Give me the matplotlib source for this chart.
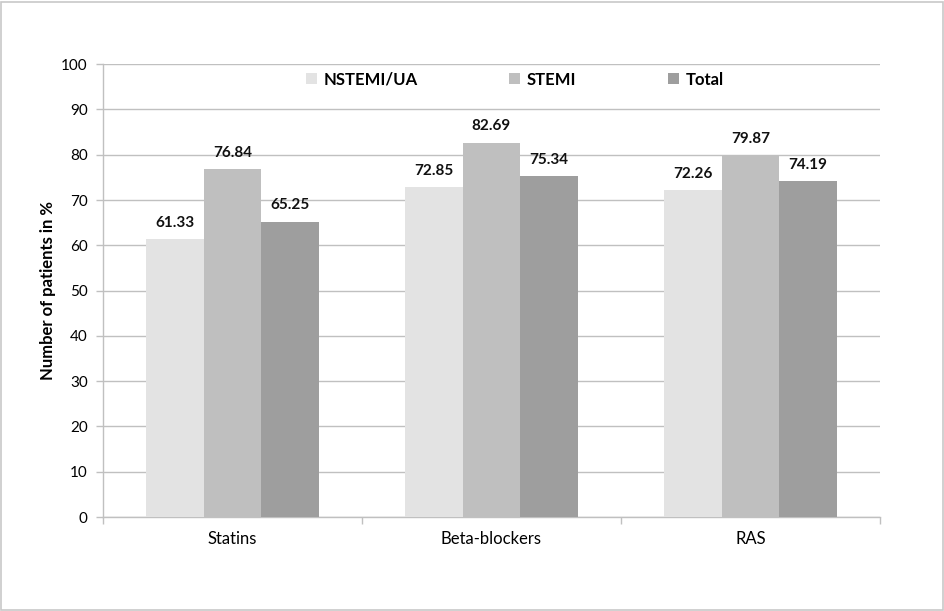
import matplotlib
matplotlib.use("Agg")
import matplotlib.pyplot as plt
import numpy as np
from matplotlib.patches import Rectangle

plt.rcParams['font.family'] = ['Lato', 'DejaVu Sans']

categories = ["Statins", "Beta-blockers", "RAS"]
series_names = ["NSTEMI/UA", "STEMI", "Total"]
nstemi = [61.33, 72.85, 72.26]
stemi = [76.84, 82.69, 79.87]
total = [65.25, 75.34, 74.19]
colors = ["#e3e3e3", "#bfbfbf", "#9e9e9e"]
yticks = list(range(0, 101, 10))

fig = plt.figure(figsize=(9.45, 6.11), dpi=100)
fig.patches.append(Rectangle((0.001, 0.002), 0.997, 0.995, transform=fig.transFigure,
                             fill=False, edgecolor="#c8c8c8", linewidth=1.2))
ax = fig.add_axes([0.109, 0.1538, 0.822, 0.7412])

x = np.arange(len(categories))
w = 0.222
for i, (vals, name, c) in enumerate(zip([nstemi, stemi, total], series_names, colors)):
    pos = x + (i - 1) * w
    ax.bar(pos, vals, width=w, color=c, label=name, zorder=3)
    for p, v in zip(pos, vals):
        ax.text(p, v + 2.0, f"{v:.2f}", ha="center", va="bottom", fontsize=11,
                fontweight="bold", color="#111111", zorder=4)

ax.set_xlim(-0.5, len(categories) - 0.5)
ax.set_ylim(0, 100)
ax.set_yticks(yticks)
ax.yaxis.grid(True, color="#c0c0c0", linewidth=1.0, zorder=0)
ax.set_axisbelow(True)
ax.set_xticks(x)
ax.set_xticklabels(categories, fontsize=12)
ax.tick_params(axis="x", length=0, pad=10)
ax.set_xticks(np.arange(len(categories) + 1) - 0.5, minor=True)
ax.tick_params(axis="x", which="minor", length=5, color="#c0c0c0", width=1)
ax.tick_params(axis="y", length=5, color="#c0c0c0", width=1, labelsize=11, pad=6)
for s in ["top", "right"]:
    ax.spines[s].set_visible(False)
for s in ["left", "bottom"]:
    ax.spines[s].set_color("#c0c0c0")
    ax.spines[s].set_linewidth(1.0)
ax.set_ylabel("Number of patients in %", fontsize=12, fontweight="bold", labelpad=4)

leg = ax.legend(loc="center", bbox_to_anchor=(0.53, 0.966), ncol=3, frameon=False,
                prop={"weight": "bold", "size": 12}, handlelength=0.65, handleheight=0.65,
                columnspacing=5.5, handletextpad=0.4)

fig.savefig("out.png", dpi=100)
